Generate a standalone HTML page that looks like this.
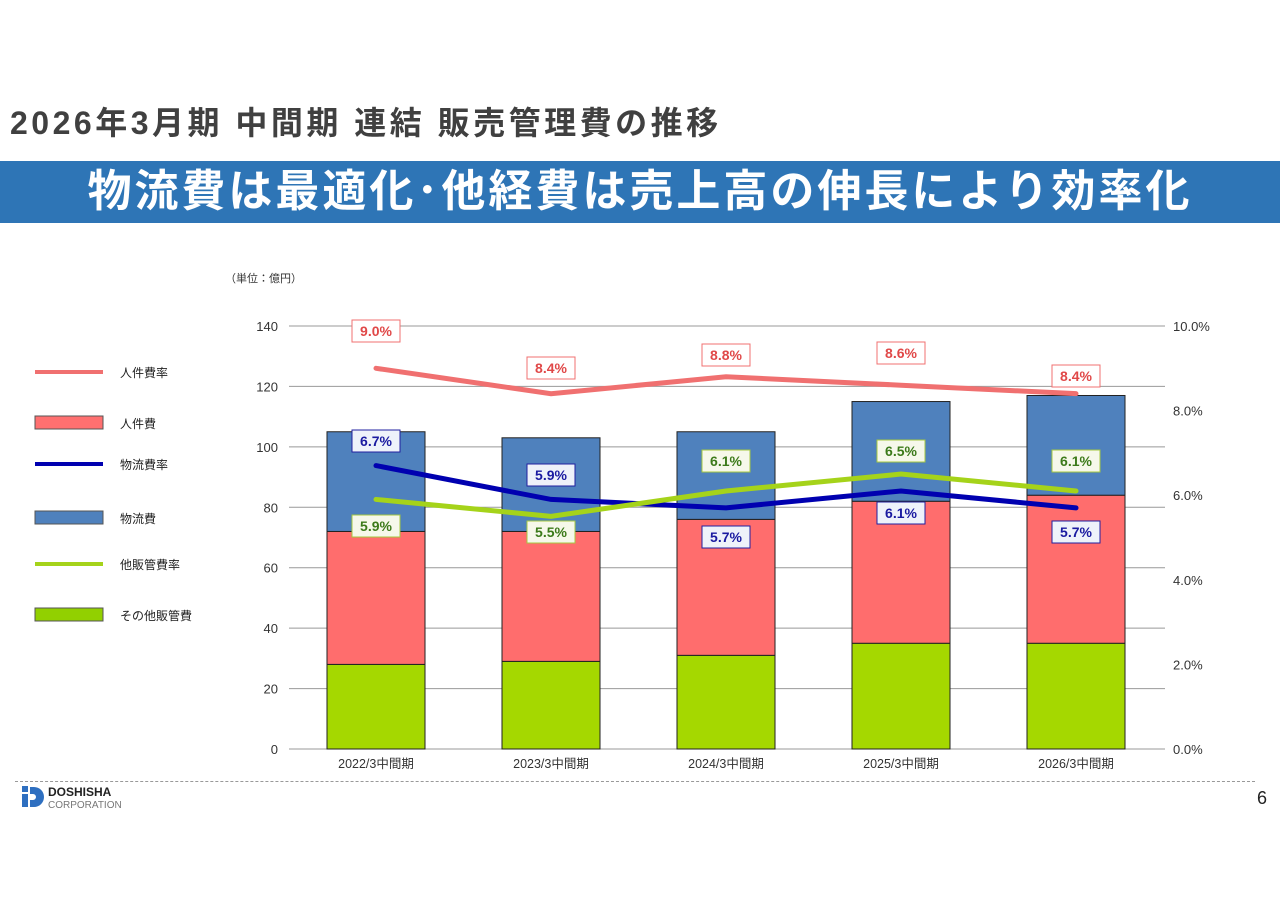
<!DOCTYPE html>
<html><head><meta charset="utf-8"><style>
body{margin:0;width:1280px;height:905px;background:#fff;font-family:"Liberation Sans","Noto Sans CJK JP",sans-serif;position:relative;overflow:hidden}
.t{position:absolute}
</style></head><body>
<div class="t" style="left:10px;top:98px;font-size:32px;color:#404040;font-weight:bold;letter-spacing:3.5px;white-space:nowrap">2026年3月期 中間期 連結 販売管理費の推移</div>
<div class="t" style="left:0;top:161px;width:1280px;height:62px;background:#2e75b6;color:#fff;font-size:44px;font-weight:bold;text-align:center;line-height:62px;letter-spacing:3px;white-space:nowrap">物流費は最適化･他経費は売上高の伸長により効率化</div>
<div class="t" style="left:225px;top:270px;font-size:11px;color:#333">（単位：億円）</div>
<svg class="t" style="left:0;top:0" width="1280" height="905" id="chart"></svg>
<div class="t" style="left:15px;top:781px;width:1240px;border-top:1px dashed #999"></div>
<svg class="t" style="left:22px;top:786px" width="22" height="22"><rect x="0" y="0" width="6" height="6" fill="#2e6fc0"/><rect x="0" y="8" width="6" height="13" fill="#2e6fc0"/><path d="M8 1 H12 A10 10 0 0 1 12 21 H8 V14 H11 A3 3 0 0 0 11 8 H8Z" fill="#2e6fc0"/></svg>
<div class="t" style="left:48px;top:786px;font-size:12px;font-weight:bold;color:#222;line-height:12px">DOSHISHA<br><span style="font-weight:normal;font-size:10px;color:#777">CORPORATION</span></div>
<div class="t" style="left:1257px;top:788px;font-size:18px;color:#222">6</div>
<script>
const categories=["2022/3中間期","2023/3中間期","2024/3中間期","2025/3中間期","2026/3中間期"];
const otherCost=[28,29,31,35,35];
const personnelCost=[44,43,45,47,49];
const logisticsCost=[33,31,29,33,33];
const personnelRate=[9.0,8.4,8.8,8.6,8.4];
const logisticsRate=[6.7,5.9,5.7,6.1,5.7];
const otherRate=[5.9,5.5,6.1,6.5,6.1];
const leftTicks=[0,20,40,60,80,100,120,140];
const rightTicks=[0,2,4,6,8,10];
const pLabelY=[331,368,355,353,376],lLabelY=[441,475,537,513,532],oLabelY=[526,532,461,451,461];
const svg=document.getElementById('chart');const NS='http://www.w3.org/2000/svg';
const X0=289,X1=1165,Y0=749,Y1=326;
const y=v=>Y0-(v/140)*(Y0-Y1);
const yr=v=>Y0-(v/10)*(Y0-Y1);
const xc=i=>376+i*175;
function el(tag,a,txt){const e=document.createElementNS(NS,tag);for(const k in a)e.setAttribute(k,a[k]);if(txt!=null)e.textContent=txt;svg.appendChild(e);return e;}
leftTicks.forEach(v=>{const g=el('line',{x1:X0,x2:X1,y1:y(v),y2:y(v),stroke:'#999','stroke-width':1});

const t=el('text',{x:278,y:y(v)+5,'text-anchor':'end','font-size':13,fill:'#333'},v);
});
rightTicks.forEach(v=>{const t=el('text',{x:1173,y:yr(v)+5,'font-size':13,fill:'#333'},v.toFixed(1)+'%');
});
categories.forEach((c,i)=>{const t=el('text',{x:xc(i),y:768,'text-anchor':'middle','font-size':12.5,fill:'#333'},c);

let b=0;[[otherCost,'#a5d800','bar-other'],[personnelCost,'#ff6d6d','bar-personnel'],[logisticsCost,'#4f81bd','bar-logistics']].forEach(([arr,col,n])=>{
const r=el('rect',{x:xc(i)-49,width:98,y:y(b+arr[i]),height:y(b)-y(b+arr[i]),fill:col,stroke:'#222','stroke-width':1});
b+=arr[i];});});
function line(arr,col,n){const p=el('polyline',{points:arr.map((v,i)=>xc(i)+','+yr(v)).join(' '),fill:'none',stroke:col,'stroke-width':5,'stroke-linecap':'round'});
}
line(personnelRate,'#f07070','line-personnel-rate');line(logisticsRate,'#0000b0','line-logistics-rate');line(otherRate,'#a5d31a','line-other-rate');
function labels(arr,ys,border,bg,color,n){arr.forEach((v,i)=>{const r=el('rect',{x:xc(i)-24,y:ys[i]-11,width:48,height:22,fill:bg,stroke:border,'stroke-width':1});

const t=el('text',{x:xc(i),y:ys[i]+5,'text-anchor':'middle','font-size':14,'font-weight':'bold',fill:color},v.toFixed(1)+'%');
});}
labels(personnelRate,pLabelY,'#f07070','#fff','#e04848','personnel-rate-label');
labels(logisticsRate,lLabelY,'#2020a0','#eef2fa','#1a1aa0','logistics-rate-label');
labels(otherRate,oLabelY,'#a5c840','#f6f8ea','#3c7a1a','other-rate-label');
const legend=[['line','#f07070','人件費率',372],['rect','#ff7070','人件費',423],['line','#0000b0','物流費率',464],['rect','#4f81bd','物流費',518],['line','#a5d31a','他販管費率',564],['rect','#92d000','その他販管費',615]];
legend.forEach(([k,col,txt,yy])=>{let m;if(k==='line')m=el('line',{x1:35,x2:103,y1:yy,y2:yy,stroke:col,'stroke-width':4});
else m=el('rect',{x:35,y:yy-7,width:68,height:13,fill:col,stroke:'#555','stroke-width':1});

const t=el('text',{x:120,y:yy+5,'font-size':12,fill:'#222'},txt);});
</script>
</body></html>
